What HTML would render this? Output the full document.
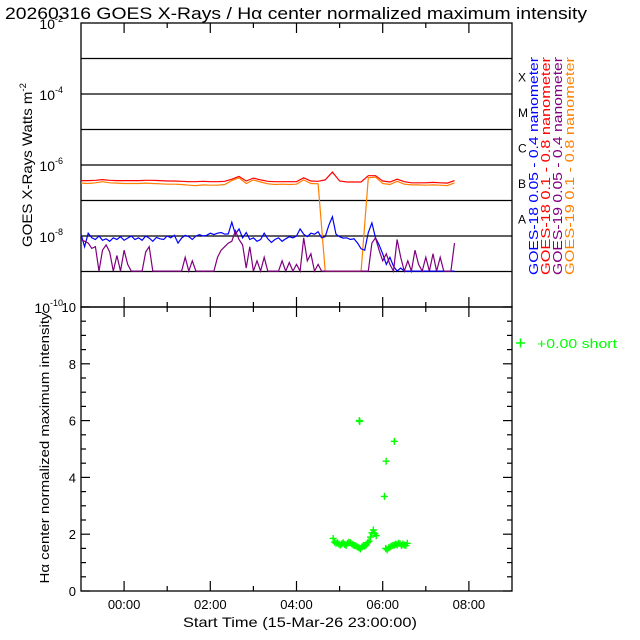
<!DOCTYPE html>
<html><head><meta charset="utf-8"><style>
html,body{margin:0;padding:0;background:#fff;}
svg{display:block;font-family:"Liberation Sans",sans-serif;}
</style></head><body>
<svg id="chart" width="640" height="640" viewBox="0 0 640 640" xmlns="http://www.w3.org/2000/svg">
<rect x="0" y="0" width="640" height="640" fill="#fff"/>
<text x="5" y="19" font-size="17" textLength="582" lengthAdjust="spacingAndGlyphs">20260316 GOES X-Rays / Hα center normalized maximum intensity</text>
<g id="top"></g>
<g id="bot"></g>
<text transform="translate(32,165) rotate(-90)" font-size="14" text-anchor="middle" textLength="164" lengthAdjust="spacingAndGlyphs">GOES X-Rays Watts m<tspan font-size="9" dy="-6">-2</tspan></text>
<text transform="translate(49,448) rotate(-90)" font-size="13" text-anchor="middle" textLength="271" lengthAdjust="spacingAndGlyphs">Hα center normalized maximum intensity</text>
<text x="300" y="627" font-size="14" text-anchor="middle" textLength="234" lengthAdjust="spacingAndGlyphs">Start Time (15-Mar-26 23:00:00)</text>
<g font-size="13">
<text transform="translate(538,275) rotate(-90)" fill="#0000ff" textLength="218" lengthAdjust="spacingAndGlyphs">GOES-18 0.05 - 0.4 nanometer</text>
<text transform="translate(550,275) rotate(-90)" fill="#ff0000" textLength="218" lengthAdjust="spacingAndGlyphs">GOES-18 0.1 - 0.8 nanometer</text>
<text transform="translate(562,275) rotate(-90)" fill="#800080" textLength="218" lengthAdjust="spacingAndGlyphs">GOES-19 0.05 - 0.4 nanometer</text>
<text transform="translate(574,275) rotate(-90)" fill="#ff8000" textLength="218" lengthAdjust="spacingAndGlyphs">GOES-19 0.1 - 0.8 nanometer</text>
</g>
<g fill="#00ff00">
<path d="M516 343h9M520.5 338.5v9" stroke="#00ff00" stroke-width="1.5"/>
<text x="537" y="348" font-size="13" textLength="80" lengthAdjust="spacingAndGlyphs">+0.00 short</text>
</g>
</svg>
<script>
const xTickLabels = ["00:00","02:00","04:00","06:00","08:00"];
const xTickHours = [1,3,5,7,9];
const topYTicks = [-2,-4,-6,-8,-10];
const flareClasses = ["X","M","C","B","A"];
const flareClassLog = [-3.5,-4.5,-5.5,-6.5,-7.5];
const botYTicks = [0,2,4,6,8,10];
// log10 flux, 10-min samples starting at hour 0 (23:00)
const red18 = [-6.44,-6.44,-6.43,-6.41,-6.43,-6.44,-6.44,-6.44,-6.44,-6.43,-6.43,-6.44,-6.45,-6.45,-6.46,-6.47,-6.47,-6.46,-6.47,-6.47,-6.46,-6.40,-6.32,-6.45,-6.37,-6.42,-6.46,-6.47,-6.47,-6.47,-6.47,-6.36,-6.45,-6.46,-6.42,-6.20,-6.45,-6.48,-6.48,-6.48,-6.30,-6.30,-6.45,-6.48,-6.40,-6.47,-6.50,-6.50,-6.50,-6.49,-6.50,-6.51,-6.44];
const orange19 = [-6.51,-6.52,-6.50,-6.47,-6.50,-6.51,-6.52,-6.52,-6.52,-6.51,-6.52,-6.53,-6.54,-6.54,-6.55,-6.57,-6.58,-6.56,-6.57,-6.57,-6.55,-6.44,-6.36,-6.52,-6.42,-6.48,-6.53,-6.55,-6.54,-6.55,-6.54,-6.42,-6.52,-6.53,-8.99,-8.99,-8.99,-8.99,-8.99,-8.99,-6.36,-6.34,-6.52,-6.55,-6.46,-6.54,-6.56,-6.56,-6.57,-6.56,-6.57,-6.58,-6.50];
// log10 flux, 5-min samples
const blue18 = [-7.95,-8.30,-7.92,-8.05,-8.10,-8.00,-8.12,-8.08,-8.15,-8.05,-8.10,-8.02,-8.12,-8.06,-8.00,-8.10,-8.05,-8.12,-8.00,-8.06,-8.15,-8.04,-8.08,-8.10,-8.00,-8.05,-7.98,-8.20,-8.06,-7.98,-8.02,-8.10,-8.00,-7.96,-8.00,-7.98,-7.92,-7.96,-7.92,-7.90,-7.95,-7.94,-7.61,-7.95,-7.80,-8.05,-7.90,-8.10,-8.05,-8.15,-8.10,-7.92,-8.08,-8.18,-8.10,-8.05,-8.15,-8.08,-8.02,-8.05,-8.00,-7.80,-7.95,-8.02,-7.92,-7.95,-7.88,-8.05,-8.02,-7.70,-7.46,-7.95,-8.02,-8.06,-8.05,-8.10,-8.08,-8.20,-8.36,-8.40,-7.90,-7.63,-8.05,-8.25,-8.50,-8.80,-8.60,-8.85,-8.99,-8.90,-8.99,-8.99,-8.99,-8.99,-8.99,-8.99,-8.99,-8.99,-8.99,-8.99,-8.99,-8.99,-8.99,-8.99,-8.99];
const purple19 = [-8.10,-8.15,-8.20,-8.35,-8.30,-8.99,-8.40,-8.25,-8.45,-8.99,-8.55,-8.99,-8.40,-8.80,-8.99,-8.99,-8.99,-8.99,-8.45,-8.30,-8.99,-8.99,-8.99,-8.99,-8.99,-8.99,-8.99,-8.99,-8.99,-8.60,-8.99,-8.70,-8.99,-8.99,-8.99,-8.99,-8.99,-8.99,-8.60,-8.40,-8.30,-8.20,-8.15,-7.85,-8.10,-8.25,-8.90,-8.30,-8.99,-8.70,-8.99,-8.60,-8.99,-8.99,-8.99,-8.99,-8.70,-8.99,-8.75,-8.99,-8.80,-8.99,-8.05,-8.70,-8.50,-8.99,-8.80,-8.99,-8.99,-8.99,-8.99,-8.99,-8.99,-8.99,-8.99,-8.99,-8.99,-8.99,-8.99,-8.99,-8.99,-8.20,-8.05,-8.40,-8.70,-8.50,-8.80,-8.99,-8.10,-8.60,-8.99,-8.70,-8.99,-8.40,-8.80,-8.99,-8.60,-8.99,-8.50,-8.99,-8.60,-8.99,-8.99,-8.99,-8.20];
// H-alpha points: hours since 23:00 and normalized intensity
const haHours = [5.85,5.883,5.917,5.95,5.983,6.017,6.05,6.083,6.117,6.15,6.183,6.217,6.25,6.283,6.317,6.35,6.383,6.417,6.45,6.483,6.517,6.55,6.583,6.617,6.65,6.683,6.717,6.75,6.783,6.817,6.85,
7.07,7.103,7.137,7.17,7.203,7.237,7.27,7.303,7.337,7.37,7.403,7.437,7.47,7.503,7.537,7.57,
6.457,6.467,7.27,7.08,7.04];
const haValues = [1.85,1.72,1.68,1.70,1.65,1.62,1.66,1.70,1.64,1.60,1.68,1.72,1.70,1.66,1.62,1.60,1.58,1.55,1.52,1.48,1.55,1.60,1.58,1.62,1.70,1.75,1.90,2.05,2.15,2.02,1.95,
1.50,1.45,1.52,1.55,1.58,1.60,1.62,1.65,1.62,1.68,1.66,1.60,1.65,1.62,1.60,1.68,
6.0,5.97,5.27,4.57,3.33];

const NS="http://www.w3.org/2000/svg";
const L=81,R=512,T1=23,B1=307,T2=307,B2=591;
const xs=h=>L+(R-L)*h/10;
const yTop=e=>T1+(-2-e)*(B1-T1)/8;
const yBot=v=>B2-v*(B2-T2)/10;
function mk(tag,parent,attrs){const e=document.createElementNS(NS,tag);for(const k in attrs)e.setAttribute(k,attrs[k]);parent.appendChild(e);return e;}
const gTop=document.getElementById('top'),gBot=document.getElementById('bot');
for(let e=-3;e>=-9;e--){const l=mk('line',gTop,{x1:L,x2:R,y1:yTop(e),y2:yTop(e),stroke:'#000','stroke-width':1.3});

}
const f1=mk('rect',gTop,{x:L,y:T1,width:R-L,height:B1-T1,fill:'none',stroke:'#000','stroke-width':1.3});


const f2=mk('rect',gBot,{x:L,y:T2,width:R-L,height:B2-T2,fill:'none',stroke:'#000','stroke-width':1.3});


for(let h=1;h<10;h++){const len=(h%2)?10:5;
 [[T1,1],[B1,-1],[B1,1],[B2,-1]].forEach(([y,d])=>{const t=mk('line',gTop,{x1:xs(h),x2:xs(h),y1:y,y2:y+d*len,stroke:'#000','stroke-width':1.2});
 
 });}
xTickLabels.forEach((s,i)=>{const t=mk('text',gBot,{x:xs(xTickHours[i]),y:609,'font-size':13,'text-anchor':'middle'});t.textContent=s;

});
topYTicks.forEach(e=>{const t=mk('text',gTop,{x:63,y:yTop(e)+6,'font-size':14,'text-anchor':'end'});t.textContent='10';


const s=mk('tspan',t,{'font-size':9,dy:-7});s.textContent=String(e);});
flareClasses.forEach((c,i)=>{const t=mk('text',gTop,{x:518,y:yTop(flareClassLog[i])+5,'font-size':12});t.textContent=c;

});
for(let k=0;k<=20;k++){const v=k/2,len=(k%4===0)?9:5;
 [[L,1],[R,-1]].forEach(([x,d])=>{const t=mk('line',gBot,{x1:x,x2:x+d*len,y1:yBot(v),y2:yBot(v),stroke:'#000','stroke-width':1.2});
 
 });}
botYTicks.forEach(v=>{const t=mk('text',gBot,{x:76,y:yBot(v)+5,'font-size':13,'text-anchor':'end'});t.textContent=v;

});
function series(arr,step,color,name){const pts=arr.map((e,i)=>xs(i*step).toFixed(1)+','+yTop(e).toFixed(1)).join(' ');
 const p=mk('polyline',gTop,{points:pts,fill:'none',stroke:color,'stroke-width':1.2,'stroke-linejoin':'miter'});
 
 }
series(red18,1/6,'#ff0000','goes18-long-line');
series(orange19,1/6,'#ff8000','goes19-long-line');
series(blue18,1/12,'#0000ff','goes18-short-line');
series(purple19,1/12,'#800080','goes19-short-line');
haHours.forEach((h,i)=>{const x=xs(h),y=yBot(haValues[i]);
 const p=mk('path',gBot,{d:`M${x-3.5} ${y}h7M${x} ${y-3.5}v7`,stroke:'#00ff00','stroke-width':1.4});
 
 });
</script>
</body></html>
